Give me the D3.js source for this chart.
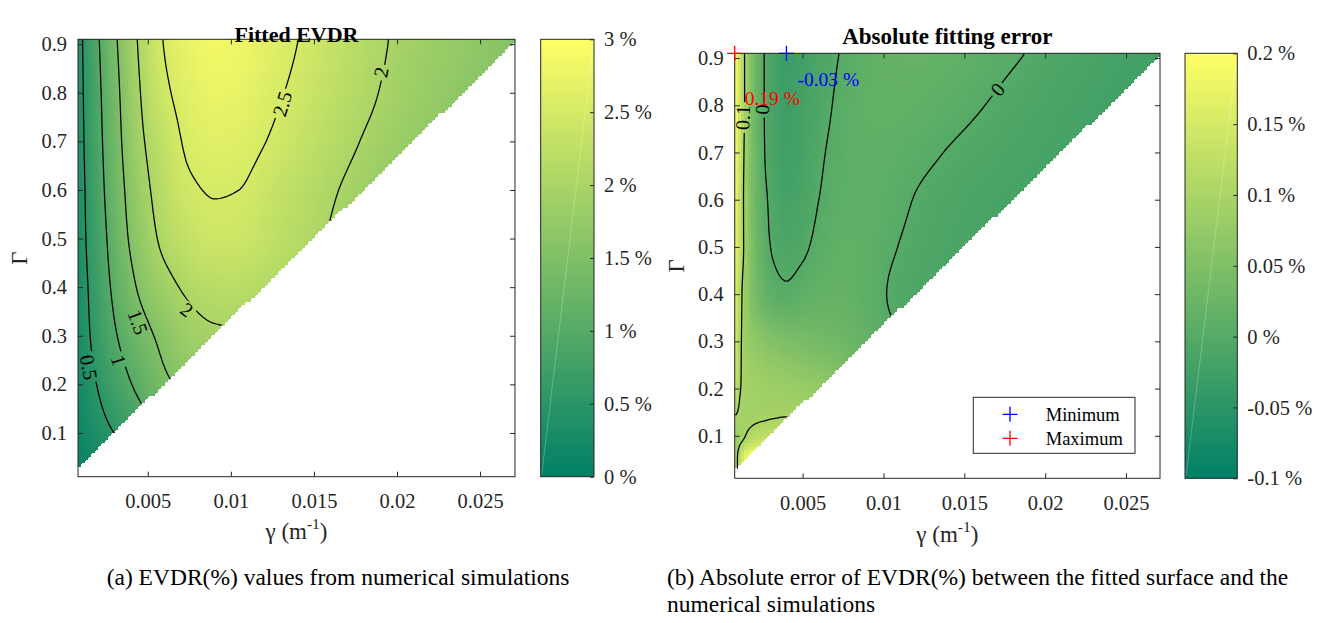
<!DOCTYPE html>
<html><head><meta charset="utf-8">
<script src="https://cdn.jsdelivr.net/npm/d3@7"></script>
<style>
body{margin:0;background:#fff}
svg{display:block}
text{font-family:"Liberation Serif","Times New Roman",Times,serif}
</style>
</head><body>
<svg id="chart" width="1320" height="623"></svg>
<script>
// ---------------- DATA ----------------
const gammaLimits = [0.0008, 0.0271];
const GammaLimits = [0.01, 0.91];
const xTickValues = [0.005, 0.01, 0.015, 0.02, 0.025];
const yTickValues = [0.1, 0.2, 0.3, 0.4, 0.5, 0.6, 0.7, 0.8, 0.9];
const cbTicksEVDR = [0, 0.5, 1, 1.5, 2, 2.5, 3];
const cbTicksError = [-0.1, -0.05, 0, 0.05, 0.1, 0.15, 0.2];
const cbLimitsEVDR = [0, 3];
const cbLimitsError = [-0.1, 0.2];

// simulation grid resolution and valid domain (Gamma >= offset + slope*gamma)
const gridCols = 131, gridRows = 130;
const domainSlope = 33.3, domainOffset = 0.0024;

// (a) fitted EVDR (%) read at gamma nodes (columns) and Gamma nodes (rows)
const evdrGammaNodes = [0.0008, 0.0015, 0.0025, 0.0035, 0.0045, 0.006, 0.0075, 0.009, 0.0105, 0.012, 0.014, 0.016, 0.018, 0.020, 0.0225, 0.025, 0.0271];
const evdrBigGammaNodes = [0.01, 0.1, 0.2, 0.3, 0.4, 0.5, 0.6, 0.7, 0.8, 0.91];
const evdrValues = [
  [0.03, 0.08, 0.16, 0.25, 0.35, 0.50, 0.65, 0.75, 0.82, 0.86, 0.88, 0.88, 0.86, 0.83, 0.80, 0.76, 0.73],
  [0.15, 0.27, 0.43, 0.58, 0.75, 1.00, 1.20, 1.30, 1.35, 1.35, 1.33, 1.28, 1.22, 1.15, 1.08, 1.00, 0.95],
  [0.23, 0.40, 0.64, 0.88, 1.10, 1.42, 1.60, 1.68, 1.70, 1.67, 1.60, 1.52, 1.43, 1.34, 1.24, 1.15, 1.08],
  [0.27, 0.49, 0.81, 1.09, 1.32, 1.62, 1.85, 1.94, 1.96, 1.92, 1.84, 1.74, 1.63, 1.51, 1.38, 1.27, 1.18],
  [0.275, 0.537, 0.91, 1.253, 1.552, 1.87, 2.07, 2.17, 2.18, 2.12, 2.00, 1.87, 1.74, 1.60, 1.45, 1.33, 1.22],
  [0.31, 0.59, 0.985, 1.39, 1.71, 2.09, 2.30, 2.41, 2.40, 2.30, 2.14, 1.97, 1.82, 1.67, 1.52, 1.40, 1.30],
  [0.32, 0.62, 1.05, 1.46, 1.81, 2.20, 2.45, 2.52, 2.50, 2.38, 2.21, 2.04, 1.88, 1.73, 1.58, 1.45, 1.36],
  [0.34, 0.653, 1.10, 1.53, 1.91, 2.29, 2.56, 2.64, 2.62, 2.51, 2.335, 2.156, 1.98, 1.83, 1.67, 1.53, 1.43],
  [0.35, 0.68, 1.14, 1.58, 1.98, 2.43, 2.64, 2.74, 2.72, 2.60, 2.433, 2.254, 2.076, 1.91, 1.75, 1.62, 1.52],
  [0.36, 0.715, 1.20, 1.65, 2.05, 2.52, 2.74, 2.85, 2.80, 2.68, 2.505, 2.32, 2.134, 1.96, 1.81, 1.68, 1.58]
];
const evdrLevels = [0.5, 1, 1.5, 2, 2.5];
const evdrLabels = [
  {text: "0.5", g: 0.00143, G: 0.235, angle: 80},
  {text: "1",   g: 0.00323, G: 0.249, angle: 72},
  {text: "1.5", g: 0.00439, G: 0.328, angle: 70},
  {text: "2",   g: 0.00734, G: 0.353, angle: 37},
  {text: "2.5", g: 0.01311, G: 0.777, angle: -73},
  {text: "2",   g: 0.01905, G: 0.842, angle: -78}
];

// (b) absolute fitting error (%)
const errGammaNodes = [0.0008, 0.0012, 0.0016, 0.002, 0.0025, 0.003, 0.004, 0.005, 0.006, 0.0075, 0.009, 0.0105, 0.012, 0.014, 0.016, 0.018, 0.020, 0.0225, 0.025, 0.0271];
const errBigGammaNodes = [0.01, 0.05, 0.1, 0.15, 0.2, 0.3, 0.4, 0.5, 0.6, 0.7, 0.8, 0.91];
const errValues = [
  [0.07, 0.13, 0.2, 0.2, 0.2, 0.19, 0.18, 0.17, 0.16, 0.14, 0.12, 0.1, 0.08, 0.06, 0.04, 0.02, 0.005, -0.008, -0.02, -0.028],
  [0.08, 0.13, 0.19, 0.2, 0.2, 0.19, 0.18, 0.17, 0.16, 0.14, 0.12, 0.1, 0.08, 0.06, 0.04, 0.02, 0.005, -0.008, -0.02, -0.028],
  [0.085, 0.092, 0.104, 0.115, 0.125, 0.13, 0.135, 0.13, 0.12, 0.11, 0.09, 0.075, 0.06, 0.045, 0.03, 0.015, 0.0, -0.01, -0.02, -0.028],
  [0.105, 0.095, 0.092, 0.092, 0.092, 0.093, 0.095, 0.095, 0.09, 0.08, 0.065, 0.05, 0.035, 0.02, 0.005, -0.005, -0.012, -0.018, -0.024, -0.028],
  [0.13, 0.098, 0.092, 0.09, 0.088, 0.086, 0.083, 0.08, 0.075, 0.065, 0.05, 0.035, 0.02, 0.005, -0.005, -0.012, -0.018, -0.022, -0.026, -0.03],
  [0.15, 0.1, 0.08, 0.07, 0.063, 0.057, 0.048, 0.043, 0.038, 0.03, 0.018, 0.005, -0.005, -0.012, -0.017, -0.02, -0.023, -0.026, -0.028, -0.03],
  [0.16, 0.105, 0.068, 0.043, 0.025, 0.013, 0.005, 0.012, 0.018, 0.019, 0.01, -0.002, -0.008, -0.013, -0.016, -0.019, -0.022, -0.025, -0.027, -0.028],
  [0.17, 0.12, 0.07, 0.04, 0.015, 0.0, -0.009, -0.004, 0.006, 0.014, 0.012, 0.002, -0.005, -0.011, -0.015, -0.018, -0.021, -0.024, -0.026, -0.028],
  [0.18, 0.12, 0.068, 0.035, 0.01, -0.004, -0.018, -0.012, 0.0, 0.01, 0.012, 0.007, -0.001, -0.008, -0.013, -0.017, -0.02, -0.023, -0.025, -0.027],
  [0.185, 0.125, 0.07, 0.035, 0.006, -0.01, -0.024, -0.017, -0.004, 0.008, 0.012, 0.01, 0.006, -0.001, -0.007, -0.012, -0.016, -0.02, -0.023, -0.025],
  [0.19, 0.13, 0.075, 0.035, 0.005, -0.012, -0.027, -0.02, -0.009, 0.006, 0.014, 0.016, 0.014, 0.008, 0.001, -0.006, -0.012, -0.018, -0.022, -0.025],
  [0.19, 0.13, 0.075, 0.04, 0.005, -0.012, -0.03, -0.022, -0.012, 0.002, 0.012, 0.018, 0.02, 0.016, 0.01, 0.003, -0.005, -0.013, -0.02, -0.025]
];
const errLevels = [0, 0.1];
const errLabels = [
  {text: "0.1", g: 0.00132, G: 0.774, angle: -88},
  {text: "0",   g: 0.00252, G: 0.791, angle: -88},
  {text: "0",   g: 0.01707, G: 0.833, angle: -50}
];
const errMinimum = {g: 0.004, G: 0.91, text: "-0.03 %"};
const errMaximum = {g: 0.0008, G: 0.91, text: "0.19 %"};
const legendItems = ["Minimum", "Maximum"];

// ---------------- HELPERS ----------------
const FONT = '"Liberation Serif","Times New Roman",Times,serif';
const svg = d3.select("#chart");
const defs = svg.append("defs");
const AXIS_COLOR = "#262626";
const summer = t => { t = Math.max(0, Math.min(1, t)); return d3.rgb(255 * t, 127.5 + 127.5 * t, 102).toString(); };

function pchipSlopes(xs, ys) {
  const n = xs.length, h = [], d = [], m = new Array(n);
  for (let i = 0; i < n - 1; i++) { h[i] = xs[i + 1] - xs[i]; d[i] = (ys[i + 1] - ys[i]) / h[i]; }
  for (let i = 1; i < n - 1; i++) {
    if (d[i - 1] * d[i] <= 0) m[i] = 0;
    else { const w1 = 2 * h[i] + h[i - 1], w2 = h[i] + 2 * h[i - 1]; m[i] = (w1 + w2) / (w1 / d[i - 1] + w2 / d[i]); }
  }
  const endSlope = (h0, h1, d0, d1) => {
    let s = ((2 * h0 + h1) * d0 - h0 * d1) / (h0 + h1);
    if (Math.sign(s) !== Math.sign(d0)) s = 0;
    else if (Math.sign(d0) !== Math.sign(d1) && Math.abs(s) > Math.abs(3 * d0)) s = 3 * d0;
    return s;
  };
  m[0] = endSlope(h[0], h[1], d[0], d[1]);
  m[n - 1] = endSlope(h[n - 2], h[n - 3], d[n - 2], d[n - 3]);
  return m;
}
function pchipEval(xs, ys, m, x) {
  const n = xs.length;
  if (x <= xs[0]) return ys[0];
  if (x >= xs[n - 1]) return ys[n - 1];
  let i = d3.bisectRight(xs, x) - 1; if (i > n - 2) i = n - 2;
  const h = xs[i + 1] - xs[i], t = (x - xs[i]) / h, t2 = t * t, t3 = t2 * t;
  return (2 * t3 - 3 * t2 + 1) * ys[i] + (t3 - 2 * t2 + t) * h * m[i] + (-2 * t3 + 3 * t2) * ys[i + 1] + (t3 - t2) * h * m[i + 1];
}
function buildField(gN, GN, vals) {
  const dx = (gammaLimits[1] - gammaLimits[0]) / gridCols, dy = (GammaLimits[1] - GammaLimits[0]) / gridRows;
  const gc = d3.range(gridCols).map(i => gammaLimits[0] + (i + 0.5) * dx);
  const Gc = d3.range(gridRows).map(j => GammaLimits[0] + (j + 0.5) * dy);
  const rows = vals.map(row => { const m = pchipSlopes(gN, row); return gc.map(g => pchipEval(gN, row, m, g)); });
  const field = new Float64Array(gridCols * gridRows);
  for (let i = 0; i < gridCols; i++) {
    const col = rows.map(r => r[i]); const m = pchipSlopes(GN, col);
    for (let j = 0; j < gridRows; j++) field[j * gridCols + i] = pchipEval(GN, col, m, Gc[j]);
  }
  return {gc, Gc, dx, dy, field};
}

function styleAxis(sel, size) {
  sel.attr("font-family", FONT).attr("font-size", size);
  sel.select(".domain").remove();
  sel.selectAll(".tick line").attr("stroke", AXIS_COLOR).attr("stroke-width", 1);
  sel.selectAll(".tick text").attr("fill", AXIS_COLOR).style("font-family", FONT).style("font-size", size + "px");
}
function txt(sel) { return sel.style("font-family", FONT); }

function drawPanel(P) {
  const xs = d3.scaleLinear().domain(gammaLimits).range([P.left, P.right]);
  const ys = d3.scaleLinear().domain(GammaLimits).range([P.bottom, P.top]);
  const F = buildField(P.gNodes, P.GNodes, P.values);
  const color = v => summer((v - P.cLimits[0]) / (P.cLimits[1] - P.cLimits[0]));
  const valid = (i, j) => i >= 0 && j >= 0 && i < gridCols && j < gridRows && F.Gc[j] >= domainOffset + domainSlope * F.gc[i];
  const root = svg.append("g");

  // cells
  const cells = [];
  for (let j = 0; j < gridRows; j++) for (let i = 0; i < gridCols; i++) if (valid(i, j)) cells.push({i, j, v: F.field[j * gridCols + i]});
  const cw = xs(gammaLimits[0] + F.dx) - xs(gammaLimits[0]);
  const ch = ys(GammaLimits[0]) - ys(GammaLimits[0] + F.dy);
  root.append("g").attr("shape-rendering", "crispEdges").selectAll("rect").data(cells).join("rect")
    .attr("x", d => xs(F.gc[d.i]) - cw / 2)
    .attr("y", d => ys(F.Gc[d.j]) - ch / 2)
    .attr("width", d => cw + (valid(d.i + 1, d.j) ? 1 : 0))
    .attr("height", d => ch + (valid(d.i, d.j - 1) ? 1 : 0))
    .attr("fill", d => color(d.v));

  // staircase clip
  const pts = [[xs(gammaLimits[0]), ys(GammaLimits[1])], [xs(gammaLimits[1]), ys(GammaLimits[1])]];
  for (let i = gridCols - 1; i >= 0; i--) {
    let jmin = 0; while (jmin < gridRows && !valid(i, jmin)) jmin++;
    const yb = ys(GammaLimits[0] + jmin * F.dy);
    pts.push([xs(F.gc[i] + F.dx / 2), yb], [xs(F.gc[i] - F.dx / 2), yb]);
  }
  defs.append("clipPath").attr("id", "stair" + P.id).append("path").attr("d", "M" + pts.map(p => p.join(",")).join("L") + "Z");

  // contours (padded grid so rings close outside the plot)
  const W = gridCols + 4, H = gridRows + 4, pad = new Array(W * H);
  for (let j = 0; j < H; j++) for (let i = 0; i < W; i++) {
    if (i === 0 || j === 0 || i === W - 1 || j === H - 1) pad[j * W + i] = -1e6;
    else {
      const ii = Math.min(gridCols - 1, Math.max(0, i - 2)), jj = Math.min(gridRows - 1, Math.max(0, j - 2));
      pad[j * W + i] = F.field[jj * gridCols + ii];
    }
  }
  const contours = d3.contours().size([W, H]).thresholds(P.levels)(pad);
  const proj = d3.geoTransform({point(x, y) { this.stream.point(xs(gammaLimits[0] + (x - 2) * F.dx), ys(GammaLimits[0] + (y - 2) * F.dy)); }});
  const path = d3.geoPath(proj);
  const mask = defs.append("mask").attr("id", "mask" + P.id).attr("maskUnits", "userSpaceOnUse")
    .attr("x", 0).attr("y", 0).attr("width", 1320).attr("height", 623);
  mask.append("rect").attr("width", 1320).attr("height", 623).attr("fill", "#fff");
  root.append("g").attr("clip-path", `url(#stair${P.id})`)
    .append("g").attr("mask", `url(#mask${P.id})`)
    .selectAll("path").data(contours).join("path")
    .attr("d", path).attr("fill", "none").attr("stroke", "#000").attr("stroke-width", 1.25);

  // contour labels
  const lab = root.append("g").selectAll("text").data(P.labels).join("text")
    .attr("transform", d => `translate(${xs(d.g)},${ys(d.G)}) rotate(${d.angle})`)
    .attr("text-anchor", "middle").attr("dy", "0.33em")
    .style("font-family", FONT).style("font-size", "20px").attr("fill", "#000").text(d => d.text);
  lab.each(function(d) {
    const w = this.getComputedTextLength();
    mask.append("rect").attr("transform", `translate(${xs(d.g)},${ys(d.G)}) rotate(${d.angle})`)
      .attr("x", -w / 2 - 3).attr("y", -8).attr("width", w + 6).attr("height", 16).attr("fill", "#000");
  });

  // axes
  const fs = 20.5;
  root.append("g").attr("transform", `translate(0,${P.bottom})`)
    .call(d3.axisBottom(xs).tickValues(xTickValues).tickSizeInner(-5).tickSizeOuter(0).tickPadding(17).tickFormat(d => String(d)))
    .call(s => styleAxis(s, fs));
  root.append("g").attr("transform", `translate(0,${P.top})`)
    .call(d3.axisTop(xs).tickValues(xTickValues).tickSizeInner(-5).tickSizeOuter(0).tickFormat(() => ""))
    .call(s => styleAxis(s, fs));
  root.append("g").attr("transform", `translate(${P.left},0)`)
    .call(d3.axisLeft(ys).tickValues(yTickValues).tickSizeInner(-5).tickSizeOuter(0).tickPadding(11).tickFormat(d => String(d)))
    .call(s => styleAxis(s, fs));
  root.append("g").attr("transform", `translate(${P.right},0)`)
    .call(d3.axisRight(ys).tickValues(yTickValues).tickSizeInner(-5).tickSizeOuter(0).tickFormat(() => ""))
    .call(s => styleAxis(s, fs));
  root.append("rect").attr("x", P.left).attr("y", P.top).attr("width", P.right - P.left).attr("height", P.bottom - P.top)
    .attr("fill", "none").attr("stroke", AXIS_COLOR).attr("stroke-width", 1);

  // titles
  txt(root.append("text")).attr("x", (P.left + P.right) / 2).attr("y", P.titleY).attr("text-anchor", "middle")
    .style("font-size", P.titleSize + "px").style("font-weight", "bold").attr("fill", "#000").text(P.title);
  txt(root.append("text")).attr("transform", `translate(${P.left - 59},${(P.top + P.bottom) / 2}) rotate(-90)`)
    .attr("text-anchor", "middle").attr("dy", "0.35em").style("font-size", "23px").attr("fill", AXIS_COLOR).text("Γ");
  const xl = txt(root.append("text")).attr("x", (P.left + P.right) / 2).attr("y", P.xLabelY).attr("text-anchor", "middle")
    .style("font-size", "23px").attr("fill", AXIS_COLOR);
  xl.append("tspan").text("γ (m");
  xl.append("tspan").attr("dy", -10).style("font-size", "15.5px").text("-1");
  xl.append("tspan").attr("dy", 10).text(")");

  // colorbar
  const cs = d3.scaleLinear().domain(P.cLimits).range([P.bottom, P.top]);
  const gid = "grad" + P.id;
  const grad = defs.append("linearGradient").attr("id", gid).attr("x1", 0).attr("y1", 1).attr("x2", 0).attr("y2", 0);
  grad.append("stop").attr("offset", 0).attr("stop-color", color(P.cLimits[0]));
  grad.append("stop").attr("offset", 1).attr("stop-color", color(P.cLimits[1]));
  root.append("rect").attr("x", P.cbX).attr("y", P.top).attr("width", P.cbW).attr("height", P.bottom - P.top).attr("fill", `url(#${gid})`);
  root.append("line").attr("x1", P.cbX + 1).attr("y1", P.bottom - 2).attr("x2", P.cbX + P.cbW - 1).attr("y2", P.top + 8)
    .attr("stroke", "#fff").attr("stroke-opacity", 0.3).attr("stroke-width", 0.8);
  root.append("g").attr("transform", `translate(${P.cbX + P.cbW},0)`)
    .call(d3.axisRight(cs).tickValues(P.cbTicks).tickSizeInner(-4).tickSizeOuter(0).tickPadding(10).tickFormat(d => d + " %"))
    .call(s => styleAxis(s, fs));
  root.append("rect").attr("x", P.cbX).attr("y", P.top).attr("width", P.cbW).attr("height", P.bottom - P.top)
    .attr("fill", "none").attr("stroke", AXIS_COLOR).attr("stroke-width", 1);

  return {xs, ys, root};
}

function plus(g, x, y, col) {
  g.append("path").attr("d", `M${x - 7.5},${y}H${x + 7.5}M${x},${y - 7.5}V${y + 7.5}`)
    .attr("stroke", col).attr("stroke-width", 1.3).attr("fill", "none");
}

// ---------------- PANELS ----------------
drawPanel({id: "A", left: 78, right: 515, top: 39.3, bottom: 476.7,
  gNodes: evdrGammaNodes, GNodes: evdrBigGammaNodes, values: evdrValues, levels: evdrLevels, labels: evdrLabels,
  cLimits: cbLimitsEVDR, cbTicks: cbTicksEVDR, cbX: 540.7, cbW: 53.3,
  title: "Fitted EVDR", titleY: 42, titleSize: 22, xLabelY: 539});

const B = drawPanel({id: "B", left: 734.7, right: 1160, top: 53.3, bottom: 478.3,
  gNodes: errGammaNodes, GNodes: errBigGammaNodes, values: errValues, levels: errLevels, labels: errLabels,
  cLimits: cbLimitsError, cbTicks: cbTicksError, cbX: 1185, cbW: 52.3,
  title: "Absolute fitting error", titleY: 44, titleSize: 23, xLabelY: 542});

// min / max markers
const mg = svg.append("g");
const mn = [B.xs(errMinimum.g), B.ys(errMinimum.G)], mx = [B.xs(errMaximum.g), B.ys(errMaximum.G)];
plus(mg, mn[0], mn[1], "#0000ff");
plus(mg, mx[0], mx[1], "#ff0000");
txt(mg.append("text")).attr("x", mn[0] + 11).attr("y", mn[1] + 33).style("font-size", "19.5px").attr("fill", "#0000ff").text(errMinimum.text);
txt(mg.append("text")).attr("x", mx[0] + 10).attr("y", mx[1] + 52).style("font-size", "19.5px").attr("fill", "#ff0000").text(errMaximum.text);

// legend
const lg = svg.append("g");
lg.append("rect").attr("x", 973.3).attr("y", 397.3).attr("width", 161.7).attr("height", 56)
  .attr("fill", "#fff").attr("stroke", AXIS_COLOR).attr("stroke-width", 1);
legendItems.forEach((t, k) => {
  plus(lg, 1010, 414.3 + k * 24, k === 0 ? "#0000ff" : "#ff0000");
  txt(lg.append("text")).attr("x", 1045.7).attr("y", 420.7 + k * 24.5).style("font-size", "18.5px").attr("fill", "#000").text(t);
});

// captions
txt(svg.append("text")).attr("x", 338).attr("y", 585).attr("text-anchor", "middle").style("font-size", "23.5px").attr("fill", "#000")
  .text("(a) EVDR(%) values from numerical simulations");
txt(svg.append("text")).attr("x", 667).attr("y", 585).style("font-size", "23.5px").attr("fill", "#000")
  .text("(b) Absolute error of EVDR(%) between the fitted surface and the");
txt(svg.append("text")).attr("x", 667).attr("y", 612).style("font-size", "23.5px").attr("fill", "#000")
  .text("numerical simulations");
</script>
</body></html>
